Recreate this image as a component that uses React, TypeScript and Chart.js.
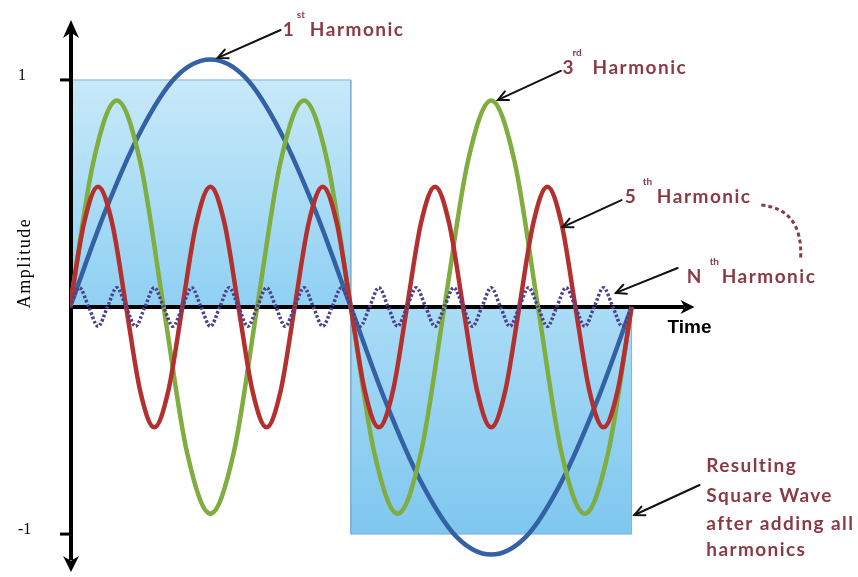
import React, { useEffect, useRef } from "react";
import { Chart, registerables } from "chart.js";

Chart.register(...registerables);

// ---------- data (time is 0..1 = one period of the fundamental) ----------
const squareTime = [0, 0, 0.5, 0.5, 1, 1];
const squareAmp = [0, 1, 1, -1, -1, 0];

// 1st harmonic, sampled every 1/16 of the period
const harmonic1 = [0, 0.42, 0.77, 1.01, 1.09, 1.01, 0.77, 0.42, 0, -0.42, -0.77, -1.01, -1.09, -1.01, -0.77, -0.42, 0];
// 3rd harmonic, sampled every 1/24
const harmonic3 = [
  0, 0.64, 0.91, 0.64, 0, -0.64, -0.91, -0.64,
  0, 0.64, 0.91, 0.64, 0, -0.64, -0.91, -0.64,
  0, 0.64, 0.91, 0.64, 0, -0.64, -0.91, -0.64,
  0,
];
// 5th harmonic, sampled every 1/40
const harmonic5 = [
  0, 0.37, 0.53, 0.37, 0, -0.37, -0.53, -0.37,
  0, 0.37, 0.53, 0.37, 0, -0.37, -0.53, -0.37,
  0, 0.37, 0.53, 0.37, 0, -0.37, -0.53, -0.37,
  0, 0.37, 0.53, 0.37, 0, -0.37, -0.53, -0.37,
  0, 0.37, 0.53, 0.37, 0, -0.37, -0.53, -0.37,
  0,
];
// Nth harmonic, sampled every 1/60
const harmonicN = [
  0, 0.085, 0, -0.085, 0, 0.085, 0, -0.085, 0, 0.085, 0, -0.085,
  0, 0.085, 0, -0.085, 0, 0.085, 0, -0.085, 0, 0.085, 0, -0.085,
  0, 0.085, 0, -0.085, 0, 0.085, 0, -0.085, 0, 0.085, 0, -0.085,
  0, 0.085, 0, -0.085, 0, 0.085, 0, -0.085, 0, 0.085, 0, -0.085,
  0, 0.085, 0, -0.085, 0, 0.085, 0, -0.085, 0, 0.085, 0, -0.085,
  0,
];

const yTickValues = [1, -1];
const yTickLabels = ["1", "-1"];
const xAxisEnd = 1.112;

// annotation anchors in data units
const harmonicLabels = [
  { main: "1", sup: "st", at: [0.379, 1.22], supDx: 14, wordDx: 27, from: [0.375, 1.22], to: [0.263, 1.097] },
  { main: "3", sup: "rd", at: [0.877, 1.053], supDx: 10, wordDx: 30, from: [0.874, 1.04], to: [0.762, 0.912] },
  { main: "5", sup: "th", at: [0.988, 0.485], supDx: 18, wordDx: 32, from: [0.982, 0.471], to: [0.877, 0.352] },
  { main: "N", sup: "th", at: [1.098, 0.132], supDx: 23, wordDx: 35, from: [1.082, 0.172], to: [0.972, 0.062] },
];
const resultLines = ["Resulting", "Square Wave", "after adding all", "harmonics"];
const resultLineY = [-0.727, -0.859, -0.982, -1.097];
const resultX = 1.133;
const resultArrow = { from: [1.121, -0.784], to: [1.005, -0.916] };
const dashedArc = { start: [1.231, 0.449], ctrl: [1.305, 0.43], end: [1.301, 0.216] };
const timeLabelAt = [1.103, -0.093];
const amplitudeLabelY = 0.194;

const LABEL_COLOR = "#8b3a45";
const LABEL_FONT = "Lato, 'Open Sans', sans-serif";

function toXY(values: number[]) {
  return values.map((v, i) => ({ x: i / (values.length - 1), y: v }));
}

function filledArrow(ctx: CanvasRenderingContext2D, tx: number, ty: number, dx: number, dy: number, len: number, half: number) {
  const bx = tx - dx * len;
  const by = ty - dy * len;
  const px = -dy;
  const py = dx;
  ctx.beginPath();
  ctx.moveTo(tx, ty);
  ctx.lineTo(bx + px * half, by + py * half);
  ctx.lineTo(bx + dx * len * 0.3, by + dy * len * 0.3);
  ctx.lineTo(bx - px * half, by - py * half);
  ctx.closePath();
  ctx.fill();
}

function lineArrow(ctx: CanvasRenderingContext2D, x1: number, y1: number, x2: number, y2: number) {
  const ang = Math.atan2(y2 - y1, x2 - x1);
  const head = 11;
  ctx.beginPath();
  ctx.moveTo(x1, y1);
  ctx.lineTo(x2, y2);
  ctx.stroke();
  ctx.beginPath();
  ctx.moveTo(x2 - head * Math.cos(ang - 0.45), y2 - head * Math.sin(ang - 0.45));
  ctx.lineTo(x2, y2);
  ctx.lineTo(x2 - head * Math.cos(ang + 0.45), y2 - head * Math.sin(ang + 0.45));
  ctx.stroke();
}

const overlayPlugin = {
  id: "overlay",
  afterDatasetDraw(chart: any, args: any) {
    if (args.index !== 0) return;
    const ctx: CanvasRenderingContext2D = chart.ctx;
    const xs = chart.scales.x;
    const ys = chart.scales.y;
    const area = chart.chartArea;
    const x0 = xs.getPixelForValue(0) + 1;
    const y0 = ys.getPixelForValue(0);
    ctx.save();
    ctx.strokeStyle = "#000";
    ctx.fillStyle = "#000";
    ctx.lineWidth = 4;
    ctx.beginPath();
    ctx.moveTo(x0, area.top + 12);
    ctx.lineTo(x0, area.bottom - 12);
    ctx.stroke();
    filledArrow(ctx, x0, area.top, 0, -1, 18, 8);
    filledArrow(ctx, x0, area.bottom, 0, 1, 16, 8);
    const xEnd = xs.getPixelForValue(xAxisEnd);
    ctx.beginPath();
    ctx.moveTo(x0, y0);
    ctx.lineTo(xEnd - 10, y0);
    ctx.stroke();
    filledArrow(ctx, xEnd, y0, 1, 0, 14, 7);

    // y ticks
    ctx.lineWidth = 3;
    ctx.font = "16px 'Liberation Serif', 'DejaVu Serif', serif";
    ctx.textBaseline = "middle";
    ctx.textAlign = "left";
    yTickValues.forEach((v, i) => {
      const y = ys.getPixelForValue(v);
      ctx.beginPath();
      ctx.moveTo(x0 - 11, y);
      ctx.lineTo(x0, y);
      ctx.stroke();
      ctx.fillText(yTickLabels[i], area.left - 52, y - 4);
    });

    // Amplitude
    ctx.save();
    ctx.translate(area.left - 45, ys.getPixelForValue(amplitudeLabelY));
    ctx.rotate(-Math.PI / 2);
    ctx.textAlign = "center";
    ctx.textBaseline = "middle";
    ctx.font = "18px 'Liberation Serif', 'DejaVu Serif', serif";
    (ctx as any).letterSpacing = "1.5px";
    ctx.fillText("Amplitude", 0, 0);
    ctx.restore();

    // Time
    ctx.font = "bold 19px 'Liberation Sans', Arial, sans-serif";
    ctx.textAlign = "center";
    ctx.textBaseline = "middle";
    ctx.fillText("Time", xs.getPixelForValue(timeLabelAt[0]), ys.getPixelForValue(timeLabelAt[1]));
    ctx.restore();
  },
  afterDraw(chart: any) {
    const ctx: CanvasRenderingContext2D = chart.ctx;
    const xs = chart.scales.x;
    const ys = chart.scales.y;
    const X = (v: number) => xs.getPixelForValue(v);
    const Y = (v: number) => ys.getPixelForValue(v);
    ctx.save();
    ctx.strokeStyle = "#111";
    ctx.lineWidth = 2;
    ctx.lineCap = "round";
    harmonicLabels.forEach((l) => {
      lineArrow(ctx, X(l.from[0]), Y(l.from[1]), X(l.to[0]), Y(l.to[1]));
      const x = X(l.at[0]);
      const y = Y(l.at[1]);
      ctx.fillStyle = LABEL_COLOR;
      ctx.textAlign = "left";
      ctx.textBaseline = "middle";
      ctx.font = `bold 19px ${LABEL_FONT}`;
      (ctx as any).letterSpacing = "1.5px";
      ctx.fillText(l.main, x, y);
      ctx.fillText("Harmonic", x + l.wordDx, y);
      ctx.font = `bold 10px ${LABEL_FONT}`;
      (ctx as any).letterSpacing = "0px";
      ctx.fillText(l.sup, x + l.supDx, y - 15);
    });
    lineArrow(ctx, X(resultArrow.from[0]), Y(resultArrow.from[1]), X(resultArrow.to[0]), Y(resultArrow.to[1]));
    ctx.fillStyle = LABEL_COLOR;
    ctx.font = `bold 19px ${LABEL_FONT}`;
    (ctx as any).letterSpacing = "1.4px";
    ctx.textAlign = "left";
    ctx.textBaseline = "alphabetic";
    resultLines.forEach((t, i) => ctx.fillText(t, X(resultX), Y(resultLineY[i])));
    (ctx as any).letterSpacing = "0px";

    ctx.strokeStyle = LABEL_COLOR;
    ctx.lineWidth = 3;
    ctx.setLineDash([4, 3]);
    ctx.lineCap = "butt";
    ctx.beginPath();
    ctx.moveTo(X(dashedArc.start[0]), Y(dashedArc.start[1]));
    ctx.quadraticCurveTo(X(dashedArc.ctrl[0]), Y(dashedArc.ctrl[1]), X(dashedArc.end[0]), Y(dashedArc.end[1]));
    ctx.stroke();
    ctx.restore();
  },
};

export default function App() {
  const ref = useRef<HTMLCanvasElement | null>(null);
  useEffect(() => {
    if (!ref.current) return;
    const curve = (label: string, values: number[], color: string, order: number, extra: any = {}) => ({
      label,
      data: toXY(values),
      borderColor: color,
      borderWidth: 4.5,
      pointRadius: 0,
      fill: false,
      cubicInterpolationMode: "monotone",
      order,
      ...extra,
    });
    const chart = new Chart(ref.current, {
      type: "line",
      data: {
        datasets: [
          {
            label: "Square wave",
            data: squareTime.map((t, i) => ({ x: t, y: squareAmp[i] })),
            borderColor: "#7fb0d2",
            borderWidth: 1,
            pointRadius: 0,
            tension: 0,
            fill: "origin",
            order: 10,
            backgroundColor: (c: any) => {
              const ch = c.chart;
              if (!ch.chartArea || !ch.scales.y) return "#9fd6f4";
              const yT = ch.scales.y.getPixelForValue(1);
              const yB = ch.scales.y.getPixelForValue(-1);
              const g = ch.ctx.createLinearGradient(0, yT, 0, yB);
              g.addColorStop(0, "#c8e9f9");
              g.addColorStop(0.499, "#8fd0f3");
              g.addColorStop(0.5, "#aadcf6");
              g.addColorStop(1, "#7fc7ef");
              return g;
            },
          } as any,
          curve("1st Harmonic", harmonic1, "#3361a3", 4),
          curve("3rd Harmonic", harmonic3, "#80ad40", 3),
          curve("5th Harmonic", harmonic5, "#b3302e", 2),
          curve("Nth Harmonic", harmonicN, "#4e408f", 1, { borderWidth: 3.5, borderDash: [2.5, 2] }),
        ],
      },
      options: {
        animation: false,
        responsive: false,
        layout: { padding: { left: 70, right: 159, top: 20, bottom: 5 } },
        plugins: { legend: { display: false }, tooltip: { enabled: false } },
        scales: {
          x: { type: "linear", min: 0, max: 1.12, display: false },
          y: { type: "linear", min: -1.167, max: 1.264, display: false },
        },
      },
      plugins: [overlayPlugin],
    } as any);
    return () => chart.destroy();
  }, []);
  return (
    <div style={{ position: "fixed", left: 0, top: 0, width: 858, height: 577, background: "#fff" }}>
      <canvas ref={ref} width={858} height={577} />
    </div>
  );
}
